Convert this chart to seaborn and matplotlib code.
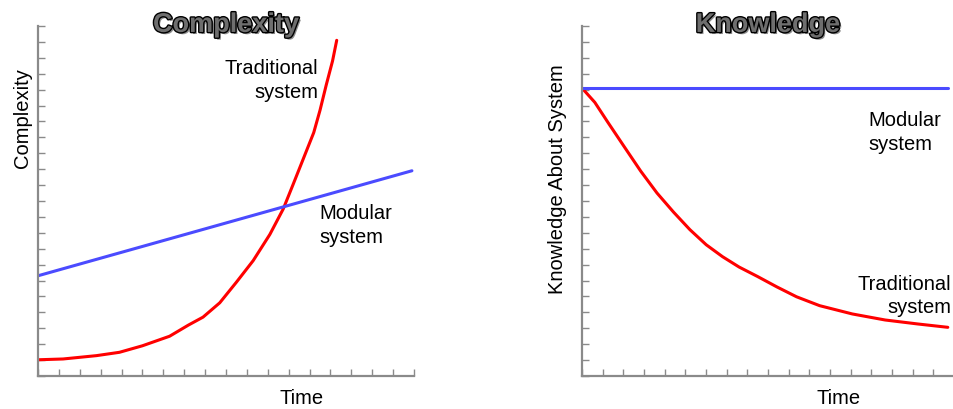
import matplotlib
matplotlib.use("Agg")
import matplotlib.pyplot as plt
import matplotlib.patheffects as pe
import seaborn as sns
import numpy as np

# complexity panel (x and y in tick units)
trad_cx_x = [0, 1.2, 2.8, 3.9, 5.0, 6.3, 7.2, 7.9, 8.7, 9.5, 10.3, 11.1, 11.74, 12.2, 12.7, 13.2, 13.5, 13.8, 14.1, 14.3]
trad_cx_y = [1.02, 1.07, 1.28, 1.49, 1.9, 2.5, 3.2, 3.7, 4.6, 5.9, 7.25, 8.9, 10.5, 12.0, 13.65, 15.3, 16.7, 18.3, 19.8, 21.1]
mod_cx_x = [0, 17.9]
mod_cx_y = [6.3, 12.9]

# knowledge panel
trad_kn_x = [0, 0.62, 1.25, 2.05, 2.84, 3.63, 4.43, 5.22, 6.01, 6.8, 7.6, 8.5, 9.43, 10.38, 11.5, 13.08, 14.67, 16.25, 17.7]
trad_kn_y = [18.1, 17.2, 15.95, 14.4, 12.88, 11.5, 10.3, 9.2, 8.25, 7.5, 6.85, 6.25, 5.6, 4.98, 4.42, 3.9, 3.52, 3.27, 3.06]
mod_kn_x = [0, 17.7]
mod_kn_y = [18.1, 18.1]

red = "#ff0000"
blue = "#4b4bff"
gray = "#8a8a8a"

sns.set_style("white")
plt.rcParams["font.family"] = ["Liberation Sans", "DejaVu Sans"]
plt.rcParams["text.color"] = "black"
plt.rcParams["axes.labelcolor"] = "black"

fig = plt.figure(figsize=(9.54, 4.10), dpi=100)
ax1 = fig.add_axes([38 / 954, 33 / 410, 376 / 954, 350 / 410])
ax2 = fig.add_axes([582 / 954, 33 / 410, 372 / 954, 350 / 410])

sns.lineplot(x=trad_cx_x, y=trad_cx_y, ax=ax1, color=red, lw=2.2, sort=False)
sns.lineplot(x=mod_cx_x, y=mod_cx_y, ax=ax1, color=blue, lw=2.2)
sns.lineplot(x=trad_kn_x, y=trad_kn_y, ax=ax2, color=red, lw=2.2, sort=False)
sns.lineplot(x=mod_kn_x, y=mod_kn_y, ax=ax2, color=blue, lw=2.2)

title_fx = [pe.SimplePatchShadow(offset=(1.5, -1.5), shadow_rgbFace="#444444", alpha=0.6),
            pe.withStroke(linewidth=2.0, foreground="black")]

for ax, xmax, title in [(ax1, 18, "Complexity"), (ax2, 17.7, "Knowledge")]:
    ax.set_xlim(0, xmax)
    ax.set_ylim(0, 22)
    ax.set_xticks(np.arange(0, 19))
    ax.set_yticks(np.arange(0, 23))
    ax.set_xticklabels([])
    ax.set_yticklabels([])
    ax.tick_params(direction="in", length=5, width=1, color=gray, bottom=True, left=True)
    sns.despine(ax=ax)
    for s in ["left", "bottom"]:
        ax.spines[s].set_color(gray)
        ax.spines[s].set_linewidth(1.6)
    t = ax.text(0.5, 0.983, title, transform=ax.transAxes, fontsize=19.5, fontweight="bold",
                color="#6e6e6e", ha="center", va="baseline")
    t.set_path_effects(title_fx)
    ax.set_xlabel("Time", fontsize=14.5)

ax1.set_ylabel("Complexity", fontsize=14.5)
ax1.yaxis.set_label_coords(-0.016, 0.74)
ax1.xaxis.set_label_coords(0.70, -0.034)
ax2.set_ylabel("Knowledge About System", fontsize=14.5)
ax2.yaxis.set_label_coords(-0.04, 0.566)
ax2.xaxis.set_label_coords(0.69, -0.034)

ax1.text(0.745, 0.847, "Traditional\nsystem", transform=ax1.transAxes, fontsize=14.5,
         ha="right", va="center", linespacing=1.3)
ax1.text(0.748, 0.433, "Modular\nsystem", transform=ax1.transAxes, fontsize=14.5,
         ha="left", va="center", linespacing=1.3)
ax2.text(0.769, 0.699, "Modular\nsystem", transform=ax2.transAxes, fontsize=14.5,
         ha="left", va="center", linespacing=1.3)
ax2.text(0.992, 0.231, "Traditional\nsystem", transform=ax2.transAxes, fontsize=14.5,
         ha="right", va="center", linespacing=1.3)

fig.savefig("out.png", dpi=100)
